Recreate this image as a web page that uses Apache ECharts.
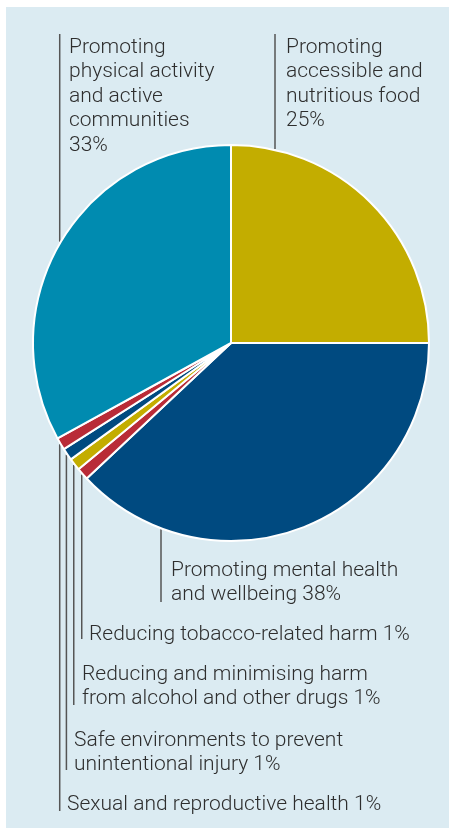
<!DOCTYPE html>
<html>
<head>
<meta charset="utf-8">
<script src="https://cdn.jsdelivr.net/npm/echarts@6/dist/echarts.min.js"></script>
<style>
html, body { margin: 0; padding: 0; background: #fff; }
#chart { width: 449px; height: 831px; }
</style>
</head>
<body>
<div id="chart"></div>
<script>
// clockwise from 12 o'clock
var names = [
	'Promoting accessible and nutritious food',
	'Promoting mental health and wellbeing',
	'Reducing tobacco-related harm',
	'Reducing and minimising harm from alcohol and other drugs',
	'Safe environments to prevent unintentional injury',
	'Sexual and reproductive health',
	'Promoting physical activity and active communities'
];
var values = [25, 38, 1, 1, 1, 1, 33];
var colors = ['#c3ad00', '#004a80', '#b92b37', '#c3ad00', '#004a80', '#b92b37', '#008bb0'];
// wrapped label text, {v} = value
var labelLines = [
	['Promoting', 'accessible and', 'nutritious food', '{v}%'],
	['Promoting mental health', 'and wellbeing {v}%'],
	['Reducing tobacco-related harm {v}%'],
	['Reducing and minimising harm', 'from alcohol and other drugs {v}%'],
	['Safe environments to prevent', 'unintentional injury {v}%'],
	['Sexual and reproductive health {v}%'],
	['Promoting', 'physical activity', 'and active', 'communities', '{v}%']
];

// layout (pixels)
var cx = 231, cy = 343, R = 198;
var labelBox = [[286, 35], [171, 558], [89, 622], [82, 662], [74, 728], [67, 792], [69, 35]];
var lineEnd = [34, 602, 639, 705, 770, 811, 34];
var lineX = [275, 161, null, null, null, null, null];

var total = values.reduce(function(a, b) { return a + b; }, 0);

function anchor(i) {
	var before = 0;
	for (var k = 0; k < i; k++) before += values[k];
	var x = lineX[i];
	var down = i > 0 && i < 6;
	if (x == null) {
		var ang = (before + values[i] / 2) / total * Math.PI * 2;
		x = cx + (R + 1) * Math.sin(ang);
	}
	var dy = Math.sqrt(Math.max(0, (R + 1) * (R + 1) - (x - cx) * (x - cx)));
	return [x, down ? cy + dy : cy - dy];
}

var chart = echarts.init(document.getElementById('chart'));

var data = names.map(function(n, i) {
	return {name: n, value: values[i], itemStyle: {color: colors[i]}};
});

chart.setOption({
	backgroundColor: '#ffffff',
	animation: false,
	graphic: [{
		type: 'rect',
		shape: {x: 6, y: 7, width: 443, height: 821},
		style: {fill: '#dbebf2'},
		z: -10
	}],
	series: [{
		type: 'pie',
		center: [cx, cy],
		radius: R,
		startAngle: 90,
		clockwise: true,
		avoidLabelOverlap: false,
		itemStyle: {
			borderColor: '#ffffff',
			borderWidth: 2
		},
		label: {
			show: true,
			position: 'outside',
			fontFamily: 'Roboto',
			fontWeight: 300,
			fontSize: 21,
			lineHeight: 24.5,
			color: '#2e2e2e',
			formatter: function(p) {
				return labelLines[p.dataIndex].join('\n').replace('{v}', p.value);
			}
		},
		labelLine: {
			show: true,
			length: 10,
			length2: 10,
			lineStyle: {color: '#555555', width: 1.5}
		},
		labelLayout: function(params) {
			var i = params.dataIndex;
			var a = anchor(i);
			return {
				x: labelBox[i][0],
				y: labelBox[i][1],
				align: 'left',
				verticalAlign: 'top',
				labelLinePoints: [a, [a[0], lineEnd[i]]]
			};
		},
		emphasis: {disabled: true},
		data: data
	}]
});
</script>
</body>
</html>
